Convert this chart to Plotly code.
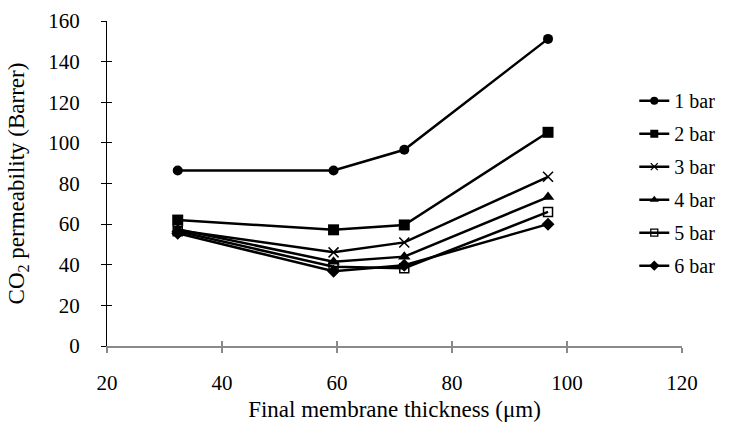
import plotly.graph_objects as go

thickness = [32.3, 59.4, 71.7, 96.7]
series_names = ["1 bar", "2 bar", "3 bar", "4 bar", "5 bar", "6 bar"]
p1 = [86.4, 86.4, 96.6, 151.2]
p2 = [62.0, 57.2, 59.6, 105.2]
p3 = [57.0, 46.1, 51.0, 83.3]
p4 = [57.5, 41.5, 44.0, 73.3]
p5 = [56.5, 39.0, 38.3, 66.0]
p6 = [55.5, 36.8, 39.8, 60.0]
values = [p1, p2, p3, p4, p5, p6]
symbols = ["circle", "square", "x-thin-open", "triangle-up", "square-open", "diamond"]
sizes = [10, 11, 10, 11, 9, 10]
legend_sizes = [8, 8, 7, 8, 7, 8]

x_ticks = [20, 40, 60, 80, 100, 120]
y_ticks = [0, 20, 40, 60, 80, 100, 120, 140, 160]

FONT = "Liberation Serif, Times New Roman, serif"
fig = go.Figure()
for name, vals, sym, sz in zip(series_names, values, symbols, sizes):
    fig.add_trace(go.Scatter(
        x=thickness, y=vals, mode="lines+markers", name=name, showlegend=False,
        line=dict(color="black", width=2.5),
        marker=dict(symbol=sym, size=sz, color="black",
                    line=dict(color="black", width=1.5 if "open" in sym else 0)),
    ))
for name, sym, sz in zip(series_names, symbols, legend_sizes):
    fig.add_trace(go.Scatter(
        x=[None], y=[None], mode="lines+markers", name=name, legendgroup=name,
        line=dict(color="black", width=2.5),
        marker=dict(symbol=sym, size=sz, color="black",
                    line=dict(color="black", width=1.3 if "open" in sym else 0)),
    ))

# invisible trace to activate overlay axes for crossing ticks
fig.add_trace(go.Scatter(x=[None], y=[None], xaxis="x2", yaxis="y2", showlegend=False))

fig.update_layout(
    width=733, height=423,
    margin=dict(l=107, r=51, t=21, b=77, autoexpand=False),
    paper_bgcolor="white", plot_bgcolor="white",
    font=dict(family=FONT, size=20, color="black"),
    xaxis=dict(range=[20, 120], tickvals=x_ticks, ticks="outside", ticklen=5,
               tickcolor="#8a8a8a", tickwidth=1.5, showline=True, linecolor="#8a8a8a",
               linewidth=1.5, showgrid=False, zeroline=False, ticklabelstandoff=12,
               tickfont=dict(family=FONT, size=21, color="black"),
               title=dict(text="Final membrane thickness (μm)", standoff=7,
                          font=dict(family=FONT, size=23, color="black"))),
    yaxis=dict(range=[0, 160], tickvals=y_ticks, ticks="outside", ticklen=5,
               tickcolor="black", tickwidth=1, showline=True, linecolor="black",
               linewidth=1, showgrid=False, zeroline=False, ticklabelstandoff=17,
               tickfont=dict(family=FONT, size=21, color="black"),
               title=dict(text="CO<sub>2</sub> permeability (Barrer)", standoff=17,
                          font=dict(family=FONT, size=23, color="black"))),
    xaxis2=dict(range=[20, 120], tickvals=x_ticks, ticks="inside", ticklen=5,
                tickcolor="#8a8a8a", tickwidth=1.5, showticklabels=False,
                showgrid=False, zeroline=False, overlaying="x", anchor="y"),
    yaxis2=dict(range=[0, 160], tickvals=y_ticks, ticks="inside", ticklen=5,
                tickcolor="black", tickwidth=1, showticklabels=False,
                showgrid=False, zeroline=False, overlaying="y", anchor="x"),
    legend=dict(x=0.917, y=0.815, xanchor="left", yanchor="top",
                bgcolor="rgba(0,0,0,0)", font=dict(family=FONT, size=20, color="black"),
                traceorder="grouped", tracegroupgap=4, itemwidth=30),
)
fig.write_html("out.html")
